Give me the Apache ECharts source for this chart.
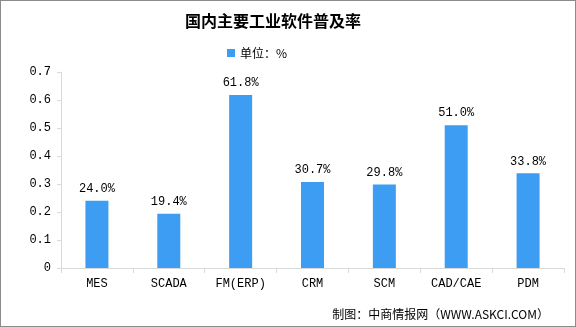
<!DOCTYPE html>
<html><head><meta charset="utf-8">
<script src="https://cdn.jsdelivr.net/npm/echarts@6/dist/echarts.min.js"></script>
<style>html,body{margin:0;padding:0;background:#fff;}#c{width:574px;height:325px;border:1px solid #8c8c8c;}</style>
</head><body><div id="c"></div>
<script>
const categories = ["MES","SCADA","FM(ERP)","CRM","SCM","CAD/CAE","PDM"];
const values = [0.240,0.194,0.618,0.307,0.298,0.510,0.338];
const yTicks = [0,0.1,0.2,0.3,0.4,0.5,0.6,0.7];
const seriesName = "单位：%";
const mono = "'Liberation Mono','DejaVu Sans Mono','Noto Sans CJK SC',monospace";
const chart = echarts.init(document.getElementById('c'));
chart.setOption({
  animation:false,
  title:{text:"国内主要工业软件普及率",left:179,top:7,textStyle:{fontFamily:"'Noto Sans CJK SC'",fontSize:16,fontWeight:'bold',color:'#000'}},
  legend:{data:[seriesName],top:41,left:221,itemWidth:8,itemHeight:8,icon:'rect',itemGap:4,textStyle:{fontFamily:"'Noto Sans CJK SC'",fontSize:12,color:'#000'}},
  grid:{left:60,right:11,top:71,bottom:58},
  xAxis:{type:'category',data:categories,axisLine:{lineStyle:{color:'#d9d9d9'}},axisTick:{show:true,lineStyle:{color:'#d9d9d9'},length:5},axisLabel:{color:'#000',fontFamily:mono,fontSize:12,margin:10}},
  yAxis:{type:'value',min:0,max:0.7,interval:0.1,splitLine:{show:false},axisLine:{show:true,lineStyle:{color:'#d9d9d9'}},axisTick:{show:true,lineStyle:{color:'#d9d9d9'},length:4},
    axisLabel:{color:'#000',fontFamily:mono,fontSize:12,margin:10,formatter:v=>{const t=yTicks.find(x=>Math.abs(x-v)<1e-9);return t===0?'0':(+t).toFixed(1);}}},
  series:[{name:seriesName,type:'bar',data:values,barWidth:23,itemStyle:{color:'#3d9df2'},
    label:{show:true,position:'top',distance:6,color:'#000',fontFamily:mono,fontSize:12,formatter:p=>(p.value*100).toFixed(1)+'%'}}],
  graphic:[{type:'text',right:26,bottom:6,style:{text:"制图：中商情报网（WWW.ASKCI.COM）",font:"12px 'Noto Sans CJK SC'",fill:'#000'}}]
});
</script></body></html>
